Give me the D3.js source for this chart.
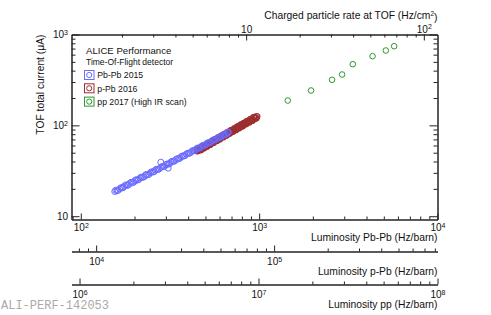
<!DOCTYPE html>
<html>
<head>
<meta charset="utf-8">
<script src="https://cdn.jsdelivr.net/npm/d3@7"></script>
<style>
  body { margin: 0; background: #fff; }
  text { font-family: "Liberation Sans", Arial, Helvetica, sans-serif; fill: #111; }
</style>
</head>
<body>
<div id="chart"></div>
<script>
// Pb-Pb 2015 : luminosity (Hz/barn) vs TOF total current (uA)
var pbpbLumi = [155, 160, 165, 171, 176, 182, 188, 195, 201, 208, 215, 222, 230, 237, 245, 254, 262, 271,
  280, 281, 290, 300, 309, 310, 320, 331, 342, 354, 366, 378, 391, 404, 418, 432, 446, 461, 477, 493,
  510, 527, 545, 563, 582, 602, 622, 643, 665, 672,
  157, 162, 168, 173, 179, 185, 191, 198, 204, 211, 218, 226, 233, 241, 249, 258, 266, 275,
  285, 295, 305, 315, 325, 336, 348, 360, 372, 384, 397, 411, 425, 439, 453, 469, 485, 501,
  518, 536, 554, 572, 592, 612, 632, 654, 668];
var pbpbCurrent = [18.7, 19.1, 20.0, 20.5, 21.5, 21.8, 23.0, 23.4, 24.6, 25.0, 26.3, 26.7, 28.2, 28.5, 30.0, 30.6, 32.2, 32.7,
  34.4, 39.3, 35.0, 36.9, 33.8, 37.4, 39.4, 40.1, 42.1, 42.9, 45.2, 45.9, 48.3, 49.1, 51.7, 52.6, 55.3, 56.2, 59.2, 60.1,
  63.3, 64.4, 67.8, 68.9, 72.5, 73.7, 77.5, 78.8, 82.9, 84.0,
  19.3, 19.3, 20.6, 20.7, 22.1, 22.1, 23.6, 23.7, 25.2, 25.3, 26.9, 27.1, 28.8, 28.9, 30.8, 31.0, 32.9, 33.1,
  35.2, 35.5, 37.6, 37.9, 40.2, 40.6, 43.1, 43.5, 46.1, 46.5, 49.3, 49.8, 52.8, 53.3, 56.4, 57.0, 60.4, 61.0,
  64.6, 65.3, 69.2, 69.9, 74.0, 74.7, 79.1, 80.0, 83.4];

// p-Pb 2016
var ppbLumi = [36900, 37700, 38500, 39300, 40100, 41000, 41800, 42700, 43600, 44500, 45500, 46400, 47400,
  48400, 49400, 50500, 51500, 52600, 53700, 54900, 56000, 57200, 58400, 59700, 60900, 62200, 63500,
  64900, 66200, 67600, 69100, 70500, 72000, 73600, 75100, 76700, 78300, 80000,
  37300, 38100, 38900, 39700, 40500, 41400, 42200, 43100, 44000, 45000, 45900, 46900, 47900,
  48900, 49900, 51000, 52000, 53100, 54300, 55400, 56600, 57800, 59000, 60300, 61500, 62800,
  64200, 65500, 66900, 68300, 69800, 71200, 72800, 74300, 75900, 77500, 79100];
var ppbCurrent = [52.4, 54.8, 53.6, 57.4, 56.2, 60.2, 58.8, 62.9, 61.7, 66.0, 64.8, 69.2, 67.7,
  72.6, 70.9, 76.0, 74.4, 79.6, 77.9, 83.5, 81.7, 87.4, 85.6, 91.7, 89.7, 96.0, 94.0,
  100.7, 98.5, 105.4, 103.4, 110.5, 108.2, 116.0, 113.4, 121.4, 119.5, 124.9,
  52.8, 55.0, 54.7, 57.7, 57.3, 60.4, 60.0, 63.2, 62.9, 66.4, 66.0, 69.5, 69.1,
  72.9, 72.4, 76.3, 75.8, 80.0, 79.5, 83.8, 83.3, 87.8, 87.4, 92.1, 91.5, 96.4,
  95.9, 101.1, 100.5, 106.0, 105.4, 111.0, 110.4, 116.4, 115.6, 122.3, 120.4];

// pp 2017 (High IR scan)
var ppLumi = [1.457e7, 1.966e7, 2.576e7, 2.931e7, 3.364e7, 4.335e7, 5.145e7, 5.726e7];
var ppCurrent = [187.7, 241.9, 317.2, 362.8, 471.1, 576.9, 666.6, 743.3];

var legendLabels = ["Pb-Pb 2015", "p-Pb 2016", "pp 2017 (High IR scan)"];
var colors = ["#6a6aff", "#9c2f2f", "#2f962f"];

var w = 491, h = 315;
var frame = {left: 71.5, right: 437.5, top: 34.5, bottom: 219.5};

var svg = d3.select("#chart")
  .append("svg")
  .attr("width", w)
  .attr("height", h);

// scales (each axis has its own luminosity scale)
var x = d3.scaleLog().domain([88.7, 1e4]).range([frame.left, frame.right]);
var xPPb = d3.scaleLog().domain([7270, 8.28e5]).range([frame.left, frame.right]);
var xPP = d3.scaleLog().domain([9.02e5, 1e8]).range([frame.left, frame.right]);
var xRate = d3.scaleLog().domain([1.04, 119.4]).range([frame.left, frame.right]);
var y = d3.scaleLog().domain([9.2, 1000]).range([frame.bottom, frame.top]);

function isPow10(v) {
  var e = Math.log10(v);
  return Math.abs(e - Math.round(e)) < 1e-6;
}

// "10" with exponent as superscript
function supLabel(d) {
  var t = d3.select(this).text("");
  var e = Math.round(Math.log10(d));
  t.append("tspan").text("10");
  if (e !== 1) t.append("tspan").attr("dy", "-0.5em").style("font-size", "7px").text(e);
}

function logAxis(g, gen, scale, major, minor, pad, labels) {
  var all = scale.ticks();
  g.append("g")
    .call(gen(scale).tickValues(all.filter(v => !isPow10(v))).tickSizeInner(-minor).tickSizeOuter(0).tickFormat(""));
  var gm = g.append("g")
    .call(gen(scale).tickValues(all.filter(isPow10)).tickSizeInner(-major).tickSizeOuter(0).tickPadding(pad));
  gm.selectAll(".tick text").style("font-size", "10px").attr("fill", null);
  if (labels) gm.selectAll(".tick text").each(supLabel);
  else gm.selectAll(".tick text").remove();
  g.selectAll("path, line").attr("stroke", "#222");
  g.attr("font-family", null).attr("font-size", null);
}

// bottom Pb-Pb axis
logAxis(svg.append("g").attr("transform", "translate(0," + frame.bottom + ")"), d3.axisBottom, x, 6, 3, 4.5, true);
// left and right y axis
logAxis(svg.append("g").attr("transform", "translate(" + frame.left + ",0)"), d3.axisLeft, y, 8, 4, 3.5, true);
logAxis(svg.append("g").attr("transform", "translate(" + frame.right + ",0)"), d3.axisRight, y, 8, 4, 3, false);
// top axis: charged particle rate
logAxis(svg.append("g").attr("transform", "translate(0," + frame.top + ")"), d3.axisTop, xRate, 6, 3, 2, true);
// extra axes below
logAxis(svg.append("g").attr("transform", "translate(0,251.5)"), d3.axisBottom, xPPb, 6, 3, 6.5, true);
logAxis(svg.append("g").attr("transform", "translate(0,284.5)"), d3.axisBottom, xPP, 6, 3, 6.5, true);

// axis titles
var titles = [
  {t: "Luminosity Pb-Pb (Hz/barn)", y: 241},
  {t: "Luminosity p-Pb (Hz/barn)", y: 274.5},
  {t: "Luminosity pp (Hz/barn)", y: 307.5}
];
svg.selectAll(".xtitle")
  .data(titles)
  .enter().append("text")
  .attr("class", "xtitle")
  .attr("x", frame.right)
  .attr("y", d => d.y)
  .attr("text-anchor", "end")
  .style("font-size", "10.3px")
  .text(d => d.t);

var topTitle = svg.append("text")
  .attr("x", frame.right)
  .attr("y", 19)
  .attr("text-anchor", "end")
  .style("font-size", "10.3px");
topTitle.append("tspan").text("Charged particle rate at TOF (Hz/cm");
topTitle.append("tspan").attr("dy", "-0.45em").style("font-size", "6.5px").text("2");
topTitle.append("tspan").attr("dy", "0.45em").text(")");

svg.append("text")
  .attr("transform", "translate(44," + frame.top + ") rotate(-90)")
  .attr("text-anchor", "end")
  .style("font-size", "10.3px")
  .text("TOF total current (μA)");

// data points
svg.append("g").selectAll("circle")
  .data(ppbLumi)
  .enter().append("circle")
  .attr("cx", d => xPPb(d))
  .attr("cy", (d, i) => y(ppbCurrent[i]))
  .attr("r", 3)
  .attr("fill", "none")
  .attr("stroke-width", 1.2)
  .attr("stroke", colors[1]);

svg.append("g").selectAll("circle")
  .data(pbpbLumi)
  .enter().append("circle")
  .attr("cx", d => x(d))
  .attr("cy", (d, i) => y(pbpbCurrent[i]))
  .attr("r", 3)
  .attr("fill", "none")
  .attr("stroke", colors[0]);

svg.append("g").selectAll("circle")
  .data(ppLumi)
  .enter().append("circle")
  .attr("cx", d => xPP(d))
  .attr("cy", (d, i) => y(ppCurrent[i]))
  .attr("r", 2.8)
  .attr("fill", "none")
  .attr("stroke", colors[2]);

// legend
svg.append("text").attr("x", 86).attr("y", 53.5).style("font-size", "9.6px").text("ALICE Performance");
svg.append("text").attr("x", 86).attr("y", 64.5).style("font-size", "8.5px").text("Time-Of-Flight detector");

var leg = svg.append("g").selectAll("g")
  .data(legendLabels)
  .enter().append("g")
  .attr("transform", (d, i) => "translate(0," + (75 + i * 13.3) + ")");
leg.append("rect")
  .attr("x", 84.5).attr("y", -4.5)
  .attr("width", 9.5).attr("height", 9)
  .attr("fill", "none")
  .attr("stroke", (d, i) => colors[i]);
leg.append("circle")
  .attr("cx", 89.2).attr("cy", 0)
  .attr("r", 2.6)
  .attr("fill", "none")
  .attr("stroke", (d, i) => colors[i]);
leg.append("text")
  .attr("x", 97.3).attr("y", 3.2)
  .style("font-size", "8.7px")
  .text(d => d);

// watermark
svg.append("text")
  .attr("x", 1).attr("y", 309)
  .style("font-family", "'Liberation Mono', 'Courier New', monospace")
  .style("font-size", "12px")
  .style("fill", "#aaa")
  .text("ALI-PERF-142053");
</script>
</body>
</html>
